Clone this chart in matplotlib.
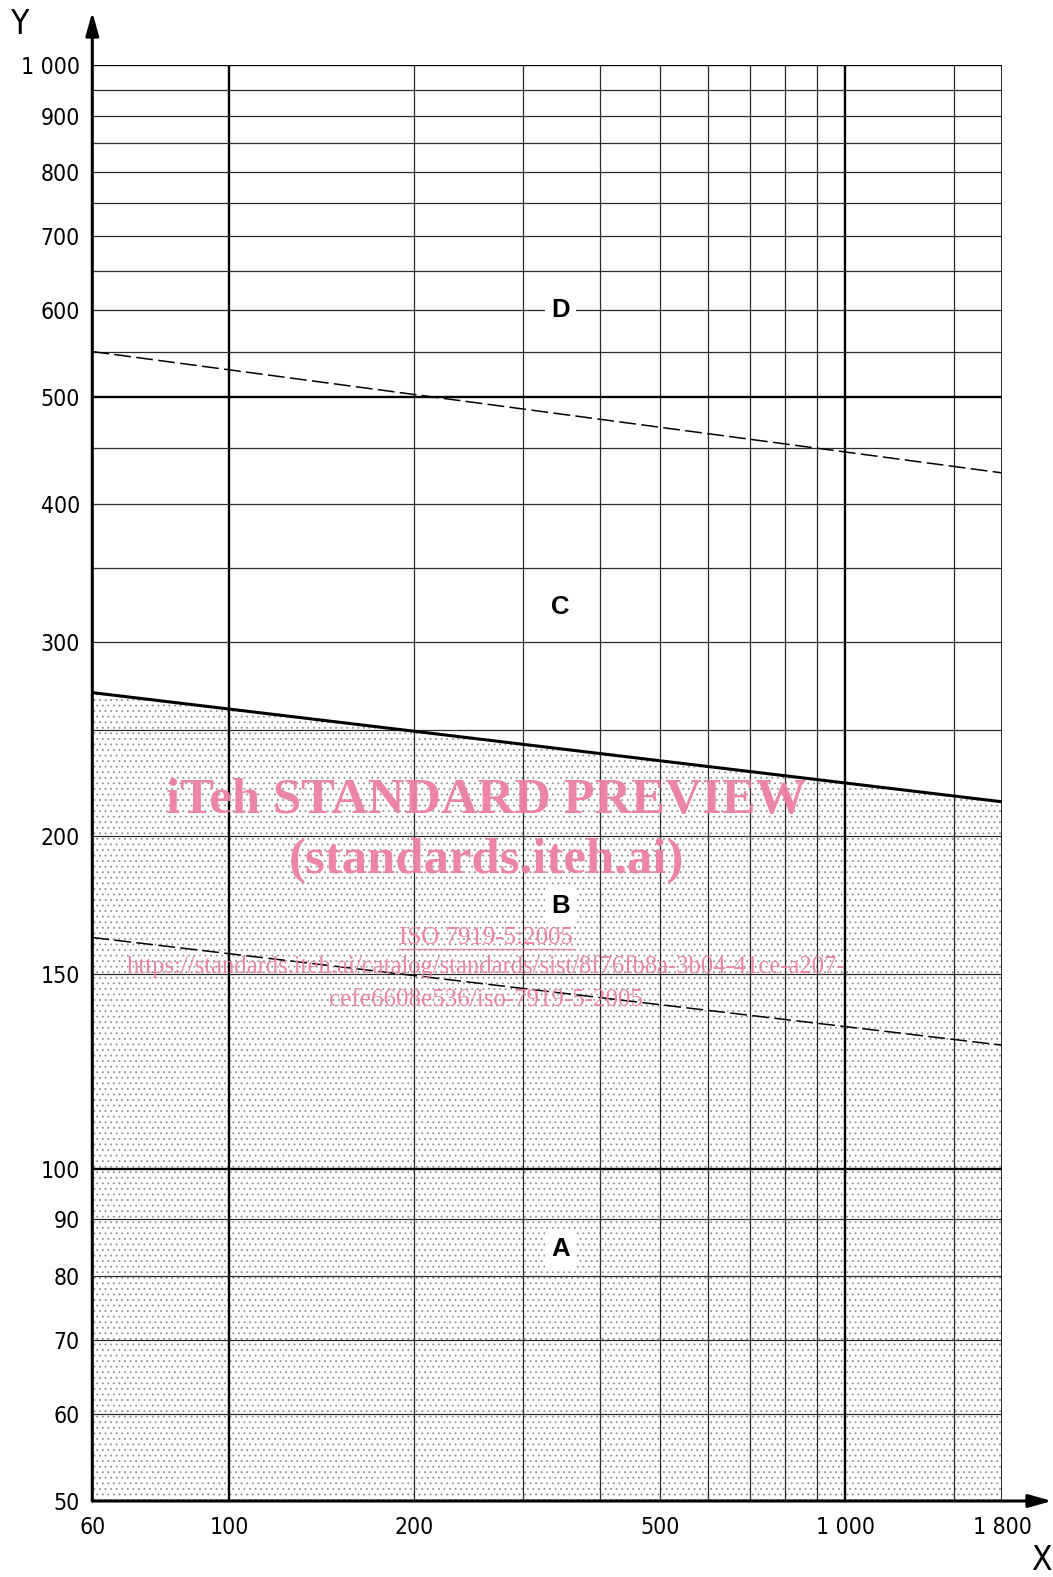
import matplotlib
matplotlib.use("Agg")
import matplotlib.pyplot as plt
from matplotlib.patches import FancyArrowPatch
from matplotlib.lines import Line2D
import numpy as np

# ---------------- data ----------------
x_min, x_max = 60, 1800
y_min, y_max = 50, 1000

x_grid_thin = [200, 300, 400, 500, 600, 700, 800, 900, 1500]
x_grid_thick = [100, 1000]
y_grid_thin = [60, 70, 80, 90, 150, 200, 250, 300, 350, 400, 450, 550,
               600, 650, 700, 750, 800, 850, 900, 950]
y_grid_thick = [100, 500]

x_tick_vals = [60, 100, 200, 500, 1000, 1800]
x_tick_labels = ["60", "100", "200", "500", "1 000", "1 800"]
y_tick_vals = [50, 60, 70, 80, 90, 100, 150, 200, 300, 400, 500, 600, 700, 800, 900, 1000]
y_tick_labels = ["50", "60", "70", "80", "90", "100", "150", "200", "300", "400",
                 "500", "600", "700", "800", "900", "1 000"]

# boundary lines (x endpoints, y endpoints)
line_x = [60, 1800]
boundary_BC = [270, 215]      # solid
boundary_CD = [550, 427]      # dashed
boundary_AB = [162, 129.4]    # dashed

zone_names = ["A", "B", "C", "D"]
zone_x = [345, 345, 345, 345]
zone_y = [84.5, 173, 323, 600]

watermark = ["iTeh STANDARD PREVIEW", "(standards.iteh.ai)", "ISO 7919-5:2005",
             "https://standards.iteh.ai/catalog/standards/sist/8f76fb8a-3b04-41ce-a207-",
             "cefe6608e536/iso-7919-5-2005"]

# ---------------- figure ----------------
W, H = 1053, 1577
fig = plt.figure(figsize=(W / 100, H / 100), dpi=100)
L, R, T, B = 92.3, 1002.3, 65, 1501
ax = fig.add_axes([L / W, (H - B) / H, (R - L) / W, (B - T) / H])
ax.set_xscale("log")
ax.set_yscale("log")
ax.set_xlim(x_min, x_max)
ax.set_ylim(y_min, y_max)
for s in ax.spines.values():
    s.set_visible(False)
ax.minorticks_off()

tick_font = dict(family="DejaVu Sans", stretch="condensed", size=16.5)
ax.set_xticks(x_tick_vals)
ax.set_xticklabels(x_tick_labels, fontdict=tick_font)
ax.set_yticks(y_tick_vals)
ax.set_yticklabels(y_tick_labels, fontdict=tick_font)
ax.tick_params(axis="both", which="both", length=0)
ax.tick_params(axis="x", pad=11)
ax.tick_params(axis="y", pad=9)

# stippled region below solid boundary
xs = np.array(line_x, dtype=float)
plt.rcParams["hatch.linewidth"] = 0.6
ax.fill_between(xs, [y_min, y_min], boundary_BC, facecolor="white",
                edgecolor="#909090", hatch="...", linewidth=0, zorder=0)

# grid
for xv in x_grid_thin:
    ax.axvline(xv, color="#2a2a2a", lw=0.9, zorder=1)
for xv in x_grid_thick:
    ax.axvline(xv, color="black", lw=1.7, zorder=1)
for yv in y_grid_thin:
    ax.axhline(yv, color="#2a2a2a", lw=0.9, zorder=1)
for yv in y_grid_thick:
    ax.axhline(yv, color="black", lw=1.7, zorder=1)
ax.axhline(y_max, color="black", lw=1.7, zorder=1)
ax.axvline(x_max, color="black", lw=1.2, zorder=1)

# boundaries
ax.plot(line_x, boundary_BC, color="black", lw=2.2, zorder=3, solid_capstyle="butt")
ax.plot(line_x, boundary_CD, color="black", lw=1.1, ls=(0, (11, 3.5)), zorder=3)
ax.plot(line_x, boundary_AB, color="black", lw=1.1, ls=(0, (11, 3.5)), zorder=3)

# zone labels
for n, zx, zy in zip(zone_names, zone_x, zone_y):
    ax.text(zx, zy, n, ha="center", va="center", family="Liberation Sans",
            weight="bold", size=18.5, zorder=4,
            bbox=dict(boxstyle="square,pad=0.25", fc="white", ec="none"))

# axes with arrows
x0 = L / W
y0 = (H - B) / H
fig.add_artist(FancyArrowPatch((x0, y0), (x0, (H - 12) / H), transform=fig.transFigure,
                               arrowstyle="-|>,head_length=1.0,head_width=0.28",
                               mutation_scale=14, lw=2.2, color="black",
                               shrinkA=0, shrinkB=0))
fig.add_artist(FancyArrowPatch((x0, y0), (1052 / W, y0), transform=fig.transFigure,
                               arrowstyle="-|>,head_length=1.0,head_width=0.28",
                               mutation_scale=14, lw=2.2, color="black",
                               shrinkA=0, shrinkB=0))
fig.text(19 / W, (H - 25) / H, "Y", ha="center", va="center",
         family="DejaVu Sans", stretch="condensed", size=24)
fig.text(1041 / W, (H - 1560) / H, "X", ha="center", va="center",
         family="DejaVu Sans", stretch="condensed", size=24)

# watermark
pink = "#ec7fa1"
cx = 486 / W
wm_base = [813.3, 873, 944, 973, 1006]
wm_size = [36.5, 36.5, 18, 17.7, 18]
wm_weight = ["bold", "bold", "normal", "normal", "normal"]
texts = []
for s, yb, sz, wt in zip(watermark, wm_base, wm_size, wm_weight):
    t = fig.text(cx, (H - yb) / H, s, ha="center", va="baseline",
                 family="Liberation Serif", weight=wt, size=sz, color=pink,
                 alpha=0.95, zorder=10)
    texts.append(t)

fig.canvas.draw()
bb = texts[2].get_window_extent(renderer=fig.canvas.get_renderer())
uy = (H - 948.5) / H
fig.add_artist(Line2D([bb.x0 / W, bb.x1 / W], [uy, uy], transform=fig.transFigure,
                      color=pink, lw=1.0, alpha=0.95))

fig.savefig("out.png", dpi=100)
